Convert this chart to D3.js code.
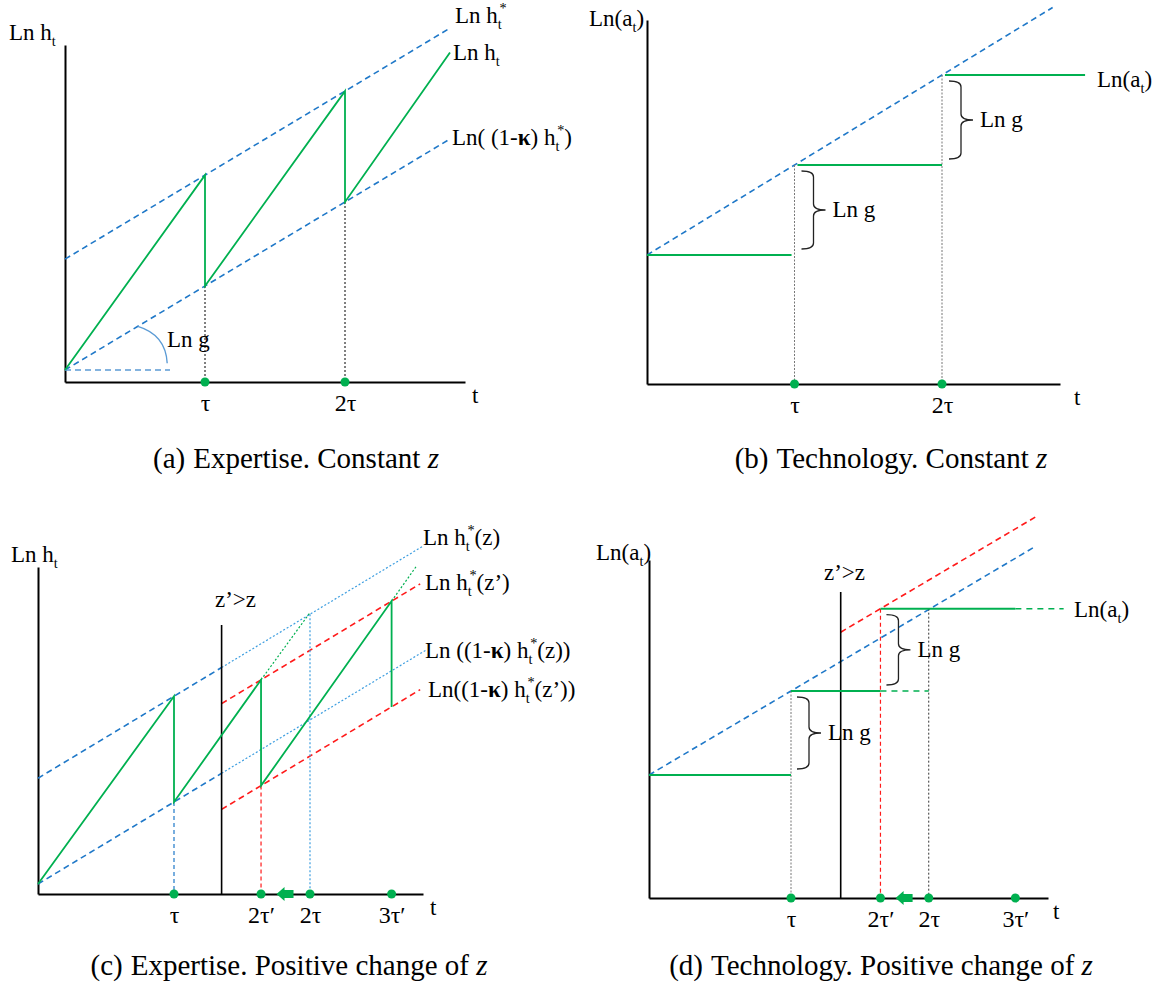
<!DOCTYPE html>
<html>
<head>
<meta charset="utf-8">
<script src="https://cdn.jsdelivr.net/npm/d3@7"></script>
<style>
  body { margin: 0; background: #fff; }
  svg { display: block; }
  svg text { font-family: "Liberation Serif", "DejaVu Serif", serif; }
</style>
</head>
<body>
<svg id="chart" width="1164" height="990"></svg>
<script>
// time is in units of tau, levels are in units of ln g

// (a) Expertise, constant z
const ticksA = [1, 2];
const tickLabelsA = ["τ", "2τ"];
const targetA = [[0, 1.32], [2.75, 4.07]];          // Ln h*
const floorA = [[0, 0], [2.75, 2.75]];              // Ln((1-k) h*)
const expertiseA = [[0, 0], [1, 2.32], [1, 1], [2, 3.32], [2, 2], [2.75, 3.78]];

// (b) Technology, constant z
const ticksB = [1, 2];
const tickLabelsB = ["τ", "2τ"];
const frontierB = [[0, 0], [2.75, 2.75]];
const techB = [[[0, 0], [0.98, 0]], [[1.02, 1], [2, 1]], [[2.02, 2], [2.97, 2]]];
const bracesB = [[1, 0, 1], [2, 1, 2]];             // t, from level, to level

// (c) Expertise, positive change of z
const ticksC = [1, 1.64, 2, 2.6];
const tickLabelsC = ["τ", "2τ′", "2τ", "3τ′"];
const shiftC = 1.35;
const targetZC = [[0, 1.29], [1.35, 2.64], [2.83, 4.12]];
const floorZC = [[0, 0], [1.35, 1.35], [2.85, 2.85]];
const targetZpC = [[1.35, 2.2], [2.81, 3.66]];
const floorZpC = [[1.35, 0.91], [2.81, 2.37]];
const expertiseC = [[0, 0], [1, 2.29], [1, 1], [1.64, 2.49], [1.64, 1.2], [2.6, 3.45], [2.6, 2.16]];
const ghostC = [[[1.64, 2.49], [2, 3.31]], [[2.6, 3.45], [2.78, 3.87]]];

// (d) Technology, positive change of z
const ticksD = [1, 1.63, 1.97, 2.58];
const tickLabelsD = ["τ", "2τ′", "2τ", "3τ′"];
const shiftD = 1.35;
const frontierZD = [[0, 0], [2.71, 2.71]];
const frontierZpD = [[1.35, 1.7], [2.73, 3.08]];
const techSolidD = [[[0, 0], [1, 0]], [[1, 1], [1.63, 1]], [[1.63, 1.98], [2.58, 1.98]]];
const techDashD = [[[1.63, 1], [1.97, 1]], [[2.58, 1.98], [2.92, 1.98]]];
const bracesD = [[1, 0, 1], [1.63, 1, 1.98]];

const BLUE = "#1f78c8", DOTBLUE = "#3d9ee0", GREEN = "#00b050", RED = "#ff1a1a";
const FS = 23;

const svg = d3.select("#chart");

function makePanel(c) {
    const x = d3.scaleLinear()
        .domain([0, (c.right - c.x0) / c.tau])
        .range([c.x0, c.right]);
    const y = d3.scaleLinear()
        .domain([(c.y0 - c.bottom) / c.unit, (c.y0 - c.top) / c.unit])
        .range([c.bottom, c.top]);
    const line = d3.line().x(d => x(d[0])).y(d => y(d[1]));
    return {g: svg.append("g"), x, y, line};
}

function drawAxes(p, ticks, labels) {
    const {g, x, y} = p;
    g.append("g")
        .attr("transform", `translate(0,${y.range()[0]})`)
        .call(d3.axisBottom(x).tickValues(ticks).tickFormat((d, i) => labels[i])
            .tickSize(0).tickSizeOuter(0).tickPadding(12))
        .call(a => {
            a.attr("font-family", null).attr("font-size", 24);
            a.select(".domain").attr("stroke", "#000").attr("stroke-width", 2);
        });
    g.append("g")
        .attr("transform", `translate(${x.range()[0]},0)`)
        .call(d3.axisLeft(y).tickValues([]).tickSizeOuter(0))
        .call(a => a.select(".domain").attr("stroke", "#000").attr("stroke-width", 2));
}

function dots(p, ticks) {
    p.g.append("g").selectAll("circle")
        .data(ticks)
        .join("circle")
        .attr("cx", d => p.x(d))
        .attr("cy", p.y.range()[0])
        .attr("r", 4.5)
        .attr("fill", GREEN);
}

function seg(p, pts, color, dash, width = 1.6) {
    p.g.append("path")
        .attr("d", p.line(pts))
        .attr("fill", "none")
        .attr("stroke", color)
        .attr("stroke-width", width)
        .attr("stroke-dasharray", dash);
}

function vline(p, t, from, color, dash, width = 1.2) {
    p.g.append("line")
        .attr("x1", p.x(t)).attr("x2", p.x(t))
        .attr("y1", p.y(from)).attr("y2", p.y.range()[0])
        .attr("stroke", color)
        .attr("stroke-width", width)
        .attr("stroke-dasharray", dash);
}

// curly brace opening to the left, tip to the right
function brace(p, t, lo, hi, off) {
    const x0 = p.x(t) + off, x1 = x0 + 12, x2 = x1 + 12;
    const yt = p.y(hi) + 6, yb = p.y(lo) - 6, ym = (yt + yb) / 2, r = 6;
    p.g.append("path")
        .attr("d", `M${x0},${yt} Q${x1},${yt} ${x1},${yt + r} L${x1},${ym - r} Q${x1},${ym} ${x2},${ym}` +
            ` Q${x1},${ym} ${x1},${ym + r} L${x1},${yb - r} Q${x1},${yb} ${x0},${yb}`)
        .attr("fill", "none")
        .attr("stroke", "#222")
        .attr("stroke-width", 1.3);
    label(p.g, x2 + 7, ym + 7, "Ln g");
}

function arrowLeft(p, t) {
    const cx = p.x(t), cy = p.y.range()[0];
    p.g.append("path")
        .attr("d", `M${cx - 9},${cy} L${cx - 1},${cy - 7} L${cx - 1},${cy - 4} L${cx + 8},${cy - 4}` +
            ` L${cx + 8},${cy + 4} L${cx - 1},${cy + 4} L${cx - 1},${cy + 7} Z`)
        .attr("fill", GREEN);
}

// _{sub} ^{sup} !{bold}
function label(g, px, py, str, size = FS) {
    const t = g.append("text").attr("x", px).attr("y", py).attr("font-size", size);
    const re = /([_^!])\{([^}]*)\}|([^_^!]+)/g;
    let m, cur = 0, prev = "";
    while ((m = re.exec(str)) !== null) {
        const kind = m[1] || "";
        const txt = kind ? m[2] : m[3];
        const shift = kind === "_" ? 0.24 * size : kind === "^" ? -0.42 * size : 0;
        const ts = t.append("tspan").attr("dy", shift - cur).text(txt);
        if (kind === "_" || kind === "^") ts.attr("font-size", 0.62 * size);
        if (kind === "!") ts.attr("font-weight", "bold");
        if (kind === "^" && prev === "_") ts.attr("dx", -0.1 * size);
        cur = shift;
        prev = kind;
    }
    return t;
}

function caption(cx, cy, head, body) {
    const t = svg.append("text")
        .attr("x", cx).attr("y", cy)
        .attr("text-anchor", "middle")
        .attr("font-size", 29);
    t.append("tspan").text(head);
    t.append("tspan").attr("dx", 8).text(body);
    t.append("tspan").attr("font-style", "italic").text("z");
}

// ---------- (a)
const pA = makePanel({x0: 65, tau: 140, right: 465, y0: 370, unit: 84, bottom: 382, top: 45});
drawAxes(pA, ticksA, tickLabelsA);
seg(pA, targetA, BLUE, "6,4");
seg(pA, floorA, BLUE, "6,4");
seg(pA, [[0, 0], [0.75, 0]], "#5b9bd5", "6,4", 1.3);
pA.g.append("path")
    .attr("d", `M${pA.x(0.52)},${pA.y(0.52)} Q${pA.x(0.72)},${pA.y(0.42)} ${pA.x(0.73)},${pA.y(0.08)}`)
    .attr("fill", "none").attr("stroke", "#5b9bd5").attr("stroke-width", 1.4);
ticksA.forEach(t => vline(pA, t, t, "#000", "2,2", 1));
seg(pA, expertiseA, GREEN, null, 1.8);
dots(pA, ticksA);
label(pA.g, 9, 40, "Ln h_{t}");
label(pA.g, 472, 403, "t");
label(pA.g, 455, 23, "Ln h_{t}^{*}");
label(pA.g, 453, 60, "Ln h_{t}");
label(pA.g, 452, 145, "Ln( (1-!{κ}) h_{t}^{*})");
label(pA.g, 167, 347, "Ln g");

// ---------- (b)
const pB = makePanel({x0: 647, tau: 147.5, right: 1060, y0: 255, unit: 90, bottom: 384, top: 20});
drawAxes(pB, ticksB, tickLabelsB);
seg(pB, frontierB, BLUE, "6,4");
ticksB.forEach(t => vline(pB, t, t, "#777", "2,1.5", 1));
techB.forEach(s => seg(pB, s, GREEN, null, 2));
bracesB.forEach(b => brace(pB, b[0], b[1], b[2], 7));
dots(pB, ticksB);
label(pB.g, 589, 26, "Ln(a_{t})");
label(pB.g, 1074, 405, "t");
label(pB.g, 1097, 87, "Ln(a_{t})");

// ---------- (c)
const pC = makePanel({x0: 38, tau: 136, right: 423, y0: 884, unit: 82, bottom: 894, top: 567});
drawAxes(pC, ticksC, tickLabelsC);
seg(pC, targetZC.slice(0, 2), BLUE, "6,4");
seg(pC, targetZC.slice(1), DOTBLUE, "2,2", 1.2);
seg(pC, floorZC.slice(0, 2), BLUE, "6,4");
seg(pC, floorZC.slice(1), DOTBLUE, "2,2", 1.2);
seg(pC, targetZpC, RED, "6,4");
seg(pC, floorZpC, RED, "6,4");
vline(pC, ticksC[0], 1, BLUE, "4,3");
vline(pC, ticksC[1], 1.2, RED, "4,3");
vline(pC, ticksC[2], 3.29, DOTBLUE, "2,2");
vline(pC, shiftC, 3.16, "#000", null, 1.6);
ghostC.forEach(s => seg(pC, s, GREEN, "2,2", 1.2));
seg(pC, expertiseC, GREEN, null, 1.8);
dots(pC, ticksC);
arrowLeft(pC, (ticksC[1] + ticksC[2]) / 2);
label(pC.g, 11, 562, "Ln h_{t}");
label(pC.g, 215, 607, "z’>z");
label(pC.g, 430, 915, "t");
label(pC.g, 423, 545, "Ln h_{t}^{*}(z)");
label(pC.g, 425, 590, "Ln h_{t}^{*}(z’)");
label(pC.g, 425, 658, "Ln ((1-!{κ}) h_{t}^{*}(z))");
label(pC.g, 428, 697, "Ln((1-!{κ}) h_{t}^{*}(z’))");

// ---------- (d)
const pD = makePanel({x0: 649, tau: 142, right: 1048, y0: 775, unit: 84, bottom: 898, top: 560});
drawAxes(pD, ticksD, tickLabelsD);
seg(pD, frontierZD, BLUE, "6,4");
seg(pD, frontierZpD, RED, "6,4");
vline(pD, ticksD[0], 1, "#777", "2,1.5", 1);
vline(pD, ticksD[1], 1.98, RED, "4,3");
vline(pD, ticksD[2], 1.98, "#333", "2,2", 1);
vline(pD, shiftD, 2.18, "#000", null, 1.6);
techSolidD.forEach(s => seg(pD, s, GREEN, null, 2));
techDashD.forEach(s => seg(pD, s, GREEN, "6,5", 1.6));
bracesD.forEach(b => brace(pD, b[0], b[1], b[2], 6));
dots(pD, ticksD);
arrowLeft(pD, (ticksD[1] + ticksD[2]) / 2);
label(pD.g, 596, 560, "Ln(a_{t})");
label(pD.g, 824, 580, "z’>z");
label(pD.g, 1053, 919, "t");
label(pD.g, 1074, 617, "Ln(a_{t})");

// ---------- captions
caption(296, 468, "(a)", "Expertise. Constant ");
caption(891, 468, "(b)", "Technology. Constant ");
caption(289, 975, "(c)", "Expertise. Positive change of ");
caption(881, 975, "(d)", "Technology. Positive change of ");
</script>
</body>
</html>
